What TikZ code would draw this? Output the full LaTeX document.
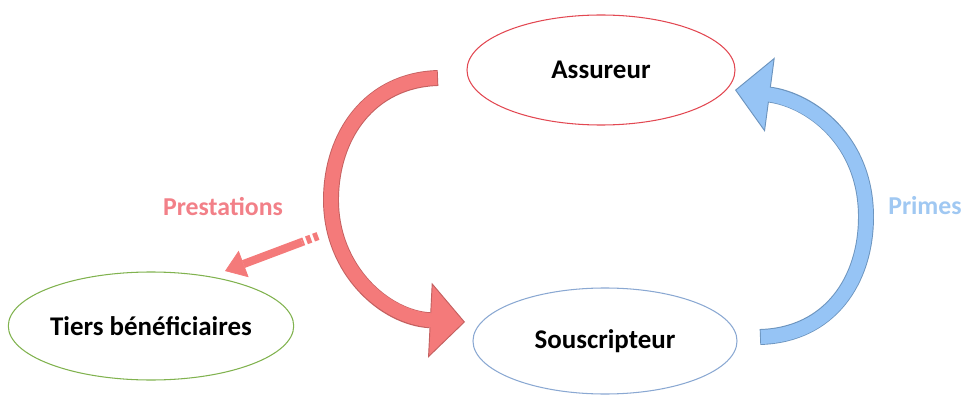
\documentclass[tikz,border=0pt]{standalone}
\usepackage{fontspec}
\setmainfont{Carlito}
\usetikzlibrary{shapes.geometric,arrows.meta}

\definecolor{redfill}{RGB}{244,122,122}
\definecolor{rededge}{RGB}{196,96,96}
\definecolor{redline}{RGB}{226,72,82}
\definecolor{redtext}{RGB}{242,128,136}
\definecolor{bluefill}{RGB}{150,196,245}
\definecolor{blueedge}{RGB}{108,148,190}
\definecolor{blueline}{RGB}{138,168,210}
\definecolor{bluetext}{RGB}{160,200,242}
\definecolor{greenline}{RGB}{128,178,78}

\tikzset{
  party/.style={ellipse, draw, line width=0.9pt, font=\fontsize{23}{27}\selectfont\bfseries, inner sep=0pt},
  flowlabel/.style={font=\fontsize{22}{26}\selectfont\bfseries},
  bigshaft/.style={line width=13.6pt, -{Triangle[width=64pt,length=30pt,line width=0.8pt,fill=#1]}},
  bigfill/.style={line width=12pt, shorten >=28pt, shorten <=0.8pt},
  smallshaft/.style={line width=7pt, -{Triangle[width=24pt,length=17pt,line width=0.6pt,fill=#1]}}
}

\begin{document}
\begin{tikzpicture}[x=0.03cm,y=-0.03cm]
  \useasboundingbox (0,0) rectangle (966,395);

  % the three parties
  \node[party, draw=redline, minimum width=8.04cm, minimum height=3.3cm] (assureur) at (601,70) {Assureur};
  \node[party, draw=blueline, minimum width=7.92cm, minimum height=3.18cm] (souscripteur) at (605,341) {Souscripteur};
  \node[party, draw=greenline, minimum width=8.34cm, minimum height=3.24cm] (tiers) at (151,326) {Tiers bénéficiaires};

  % ends of the arrows
  \coordinate (prestail) at (438,78);
  \coordinate (presleft) at (331,200);
  \coordinate (prestip) at (465,322);
  \coordinate (primtail) at (760,337);
  \coordinate (primright) at (866,217);
  \coordinate (primtip) at (735,90);
  \coordinate (dashA) at (318,236);
  \coordinate (dashB) at (302,242);
  \coordinate (tierstip) at (225,271);

  % prestations
  \draw[rededge, bigshaft=redfill] (prestail) .. controls (370,80) and (331,135) .. (presleft)
    .. controls (331,270) and (385,318) .. (prestip);
  \draw[redfill, bigfill] (prestail) .. controls (370,80) and (331,135) .. (presleft)
    .. controls (331,270) and (385,318) .. (prestip);
  \draw[redfill, line width=7pt, dash pattern=on 4pt off 2.5pt] (dashA) -- (dashB);
  \draw[redfill, smallshaft=redfill] (dashB) -- (tierstip);

  % primes
  \draw[blueedge, bigshaft=bluefill] (primtail) .. controls (830,335) and (866,280) .. (primright)
    .. controls (866,140) and (810,100) .. (primtip);
  \draw[bluefill, bigfill] (primtail) .. controls (830,335) and (866,280) .. (primright)
    .. controls (866,140) and (810,100) .. (primtip);

  \node[flowlabel, text=redtext] (prestations) at (223,207) {Prestations};
  \node[flowlabel, text=bluetext] (primes) at (925,206) {Primes};
\end{tikzpicture}
\end{document}
